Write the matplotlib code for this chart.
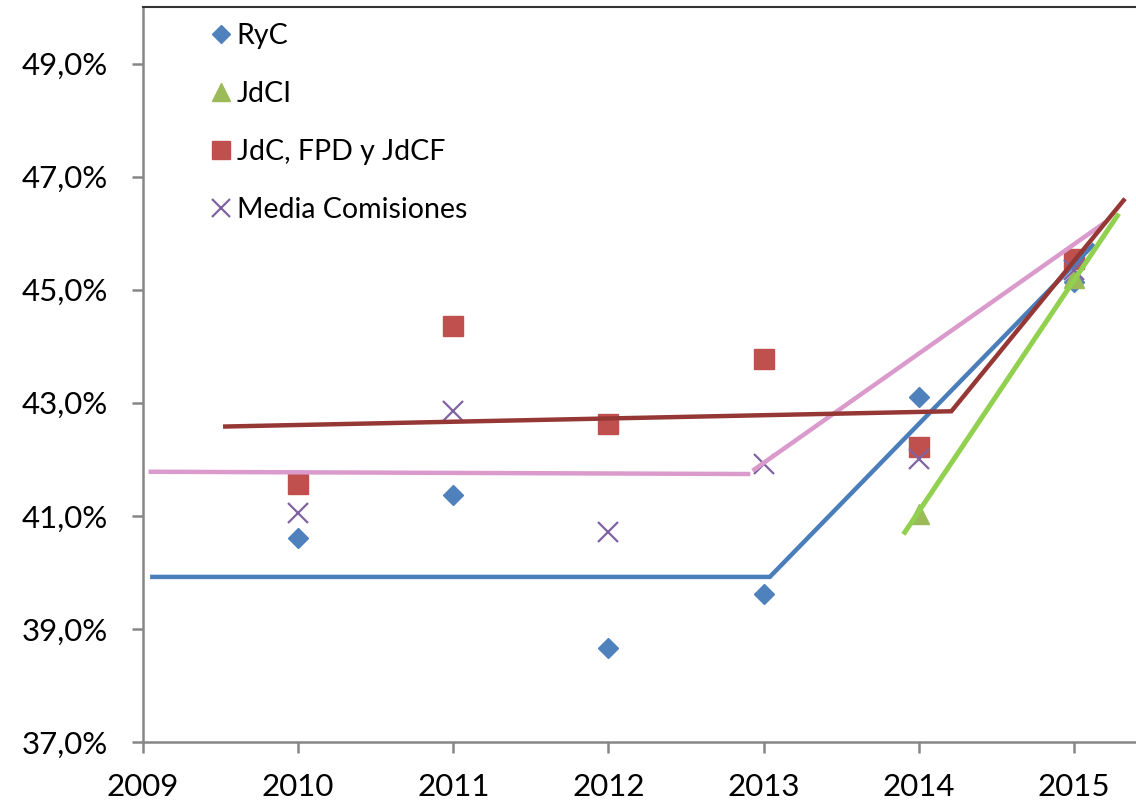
import numpy as np
import matplotlib
matplotlib.use("Agg")
import matplotlib.pyplot as plt
from matplotlib.ticker import FuncFormatter

plt.rcParams['font.family'] = ['Lato', 'DejaVu Sans']

years = [2010, 2011, 2012, 2013, 2014, 2015]
ryc = [40.60, 41.37, 38.66, 39.62, 43.10, 45.13]
jdci_years = [2014, 2015]
jdci = [41.03, 45.20]
jdc = [41.56, 44.35, 42.62, 43.77, 42.21, 45.55]
media = [41.05, 42.85, 40.71, 41.91, 42.00, 45.34]

# segmented trend lines (node positions)
ryc_tx = [2009.06, 2013.04, 2015.12]
ryc_ty = [39.92, 39.92, 45.78]
media_tx1 = [2009.05, 2012.90]
media_ty1 = [41.78, 41.74]
media_tx2 = [2012.94, 2015.19]
media_ty2 = [41.82, 46.17]
jdc_tx = [2009.53, 2014.21, 2015.32]
jdc_ty = [42.58, 42.85, 46.58]
jdci_tx = [2013.91, 2015.28]
jdci_ty = [40.71, 46.31]

fig = plt.figure(figsize=(11.36, 8.06), dpi=100)
ax = fig.add_axes([0.1259, 0.0794, 0.8741, 0.9119])

ax.plot(years, ryc, linestyle='none', marker='D', ms=10, color='#4F81BD', label='RyC', zorder=2)
ax.plot(jdci_years, jdci, linestyle='none', marker='^', ms=15, color='#9BBB59', label='JdCI', zorder=2)
ax.plot(years, jdc, linestyle='none', marker='s', ms=14, color='#C0504D', label='JdC, FPD y JdCF', zorder=2)
ax.plot(years, media, linestyle='none', marker='x', ms=14, mew=1.6, color='#8064A2', label='Media Comisiones', zorder=2)

ax.plot(ryc_tx, ryc_ty, color='#4A7EBB', lw=3.2, zorder=3, solid_joinstyle='miter')
ax.plot(media_tx1, media_ty1, color='#DA9ACB', lw=3.2, zorder=3)
ax.plot(media_tx2, media_ty2, color='#DA9ACB', lw=3.2, zorder=3)
ax.plot(jdc_tx, jdc_ty, color='#953735', lw=3.2, zorder=3, solid_joinstyle='miter')
ax.plot(jdci_tx, jdci_ty, color='#92D050', lw=3.6, zorder=3)

ax.set_xlim(2009, 2015.4)
ax.set_ylim(37, 50)
ax.set_xticks(range(2009, 2016))
ax.set_yticks(np.arange(37, 50, 2))
ax.yaxis.set_major_formatter(FuncFormatter(lambda v, p: ('%.1f%%' % v).replace('.', ',')))

ax.spines['right'].set_visible(False)
ax.spines['top'].set_color('#333333')
ax.spines['top'].set_linewidth(1.5)
for s in ['left', 'bottom']:
    ax.spines[s].set_color('#868686')
    ax.spines[s].set_linewidth(1.8)
ax.tick_params(axis='both', direction='out', length=8, width=1.8, color='#868686',
               labelsize=22.5, labelcolor='black')
ax.tick_params(axis='y', pad=17)
ax.tick_params(axis='x', pad=14)

ax.legend(loc='upper left', bbox_to_anchor=(0.05, 1.005), frameon=False, fontsize=20.5,
          handlelength=0.6, handletextpad=0.25, labelspacing=1.12, borderaxespad=0.3,
          markerscale=0.9)

fig.savefig('out.png', dpi=100)
